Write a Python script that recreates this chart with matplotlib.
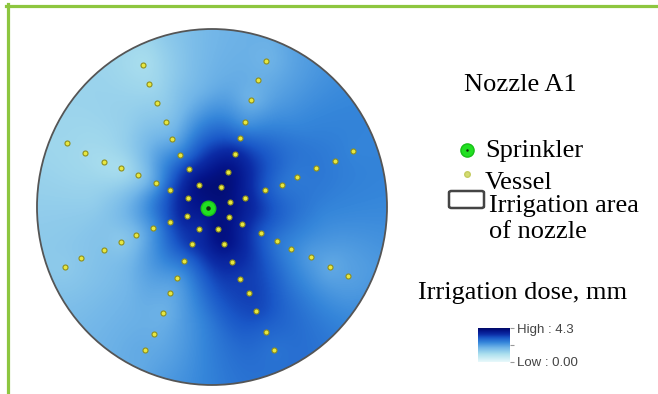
import matplotlib
matplotlib.use("Agg")
import matplotlib.pyplot as plt
import numpy as np
from matplotlib.colors import LinearSegmentedColormap
from matplotlib.lines import Line2D
from matplotlib.patches import Circle, FancyBboxPatch

# 容器位置 (m, 以喷头为原点), 8 条测线, 每条 8 个容器, 由外向内
ray_nnw_x = [-3.33, -3.00, -2.58, -2.17, -1.83, -1.42, -1.00, -0.50]
ray_nnw_y = [7.12, 6.17, 5.20, 4.28, 3.42, 2.62, 1.92, 1.13]
ray_nne_x = [2.92, 2.50, 2.13, 1.87, 1.62, 1.33, 0.97, 0.63]
ray_nne_y = [7.33, 6.37, 5.37, 4.30, 3.50, 2.67, 1.80, 1.03]
ray_wnw_x = [-7.13, -6.22, -5.30, -4.42, -3.55, -2.67, -1.92, -1.03]
ray_wnw_y = [3.25, 2.75, 2.28, 1.97, 1.62, 1.25, 0.88, 0.50]
ray_ene_x = [7.33, 6.42, 5.42, 4.47, 3.70, 2.88, 1.87, 1.08]
ray_ene_y = [2.83, 2.33, 1.97, 1.55, 1.13, 0.92, 0.50, 0.28]
ray_wsw_x = [-7.25, -6.42, -5.30, -4.42, -3.67, -2.78, -1.92, -1.08]
ray_wsw_y = [-2.92, -2.48, -2.08, -1.67, -1.35, -1.00, -0.68, -0.38]
ray_ese_x = [7.05, 6.17, 5.17, 4.20, 3.47, 2.67, 1.72, 1.03]
ray_ese_y = [-3.38, -2.95, -2.42, -2.05, -1.62, -1.22, -0.78, -0.45]
ray_ssw_x = [-3.20, -2.75, -2.30, -1.95, -1.58, -1.25, -0.83, -0.50]
ray_ssw_y = [-7.05, -6.25, -5.20, -4.25, -3.47, -2.65, -1.80, -1.05]
ray_sse_x = [3.33, 2.92, 2.42, 2.05, 1.62, 1.20, 0.80, 0.47]
ray_sse_y = [-7.05, -6.17, -5.13, -4.25, -3.55, -2.70, -1.77, -1.05]

# 各容器的灌水深度 (mm)
dose_nnw = [1.0, 1.1, 1.3, 1.5, 1.8, 2.5, 3.6, 4.3]
dose_nne = [1.8, 1.9, 1.7, 2.1, 2.9, 3.8, 4.2, 4.3]
dose_wnw = [1.2, 1.1, 1.0, 0.9, 1.2, 1.9, 3.3, 4.0]
dose_ene = [2.5, 2.6, 2.7, 2.6, 2.6, 3.0, 3.7, 4.1]
dose_wsw = [1.4, 1.5, 1.6, 1.3, 1.6, 2.2, 3.3, 3.9]
dose_ese = [2.1, 1.9, 2.1, 2.4, 2.6, 3.0, 3.6, 4.1]
dose_ssw = [2.0, 1.9, 1.8, 1.9, 2.1, 2.7, 3.6, 3.3]
dose_sse = [2.7, 2.9, 3.3, 3.4, 3.3, 3.6, 4.2, 4.3]

dose_min, dose_max = 0.0, 4.3

# 喷嘴湿润区域 (圆)
area_cx, area_cy, area_r = 0.18, 0.05, 8.85

vx = np.array(ray_nnw_x + ray_nne_x + ray_wnw_x + ray_ene_x + ray_wsw_x + ray_ese_x + ray_ssw_x + ray_sse_x)
vy = np.array(ray_nnw_y + ray_nne_y + ray_wnw_y + ray_ene_y + ray_wsw_y + ray_ese_y + ray_ssw_y + ray_sse_y)
vd = np.array(dose_nnw + dose_nne + dose_wnw + dose_ene + dose_wsw + dose_ese + dose_ssw + dose_sse)

cmap = LinearSegmentedColormap.from_list(
    "dose",
    [
        (0.00, "#e8f9fb"),
        (0.23, "#ace0ee"),
        (0.42, "#72b6e8"),
        (0.58, "#3586da"),
        (0.72, "#1a58c8"),
        (0.82, "#0c2ca6"),
        (0.92, "#04148a"),
        (1.00, "#020a68"),
    ],
)

plt.rcParams["font.family"] = ["Liberation Serif", "DejaVu Serif"]

fig = plt.figure(figsize=(6.58, 3.94), dpi=100)

# 反距离加权插值 (幂 2, 最近 12 点)
n_near = 12
xs = np.linspace(area_cx - area_r, area_cx + area_r, 360)
ys = np.linspace(area_cy - area_r, area_cy + area_r, 360)
gx, gy = np.meshgrid(xs, ys)
d2 = (gx[..., None] - vx) ** 2 + (gy[..., None] - vy) ** 2 + 0.02
idx = np.argpartition(d2, n_near, axis=-1)[..., :n_near]
d2_near = np.take_along_axis(d2, idx, axis=-1)
w = 1.0 / d2_near
grid = (w * vd[idx]).sum(axis=-1) / w.sum(axis=-1)

# 高斯平滑, 去掉邻域切换造成的折痕
sigma = 7
k = np.arange(-3 * sigma, 3 * sigma + 1)
kernel = np.exp(-0.5 * (k / sigma) ** 2)
kernel /= kernel.sum()
pad = len(k) // 2
grid = np.pad(grid, pad, mode="edge")
grid = np.apply_along_axis(lambda r: np.convolve(r, kernel, mode="valid"), 1, grid)
grid = np.apply_along_axis(lambda c: np.convolve(c, kernel, mode="valid"), 0, grid)

ax = fig.add_axes([36 / 658, 1 - 386 / 394, 352 / 658, 358 / 394])
ax.set_xlim(area_cx - area_r - 0.05, area_cx + area_r + 0.05)
ax.set_ylim(area_cy - area_r - 0.05, area_cy + area_r + 0.05)
ax.axis("off")

circle = Circle((area_cx, area_cy), area_r, facecolor="none", edgecolor="#555555", linewidth=1.3, zorder=3)
im = ax.imshow(
    grid,
    extent=(xs[0], xs[-1], ys[0], ys[-1]),
    origin="lower",
    cmap=cmap,
    vmin=dose_min,
    vmax=dose_max,
    interpolation="bilinear",
    aspect="auto",
    zorder=1,
)
ax.add_patch(circle)
im.set_clip_path(circle)

ax.scatter(vx, vy, s=13, c="#e8e840", edgecolors="#8f8f1c", linewidths=0.8, zorder=4)
ax.scatter([0], [0], s=110, c="#22e022", edgecolors="#18c018", linewidths=1, zorder=5)
ax.scatter([0], [0], s=5, c="#103010", zorder=6)

# 图例
fig.text(520 / 658, 1 - 85 / 394, "Nozzle A1", fontsize=19, ha="center", va="center")
fig.add_artist(Line2D([467 / 658], [1 - 150 / 394], marker="o", markersize=9.5,
                      markerfacecolor="#22e022", markeredgecolor="#18c018", linestyle="none"))
fig.add_artist(Line2D([467 / 658], [1 - 150 / 394], marker="o", markersize=1.8,
                      markerfacecolor="#103010", markeredgecolor="none", linestyle="none"))
fig.text(485 / 658, 1 - 151 / 394, "Sprinkler", fontsize=19, ha="left", va="center")
fig.add_artist(Line2D([467 / 658], [1 - 174 / 394], marker="o", markersize=4,
                      markerfacecolor="#d4dc70", markeredgecolor="#c4cc60", linestyle="none"))
fig.text(485 / 658, 1 - 189 / 394, "Vessel", fontsize=19, ha="left", va="baseline")
fig.add_artist(FancyBboxPatch((449 / 658, 1 - 208 / 394), 35 / 658, 17 / 394,
                              boxstyle="round,pad=0,rounding_size=0.004",
                              transform=fig.transFigure, facecolor="white",
                              edgecolor="#444444", linewidth=1.8))
fig.text(489 / 658, 1 - 212 / 394, "Irrigation area", fontsize=19, ha="left", va="baseline")
fig.text(489 / 658, 1 - 238 / 394, "of nozzle", fontsize=19, ha="left", va="baseline")

fig.text(418 / 658, 1 - 299 / 394, "Irrigation dose, mm", fontsize=19, ha="left", va="baseline")

cax = fig.add_axes([478 / 658, 1 - 362 / 394, 32 / 658, 34 / 394])
levels = np.linspace(dose_min, dose_max, 100)[:, None]
cax.imshow(levels, cmap=cmap, vmin=dose_min, vmax=dose_max, origin="lower",
           aspect="auto", extent=(0, 1, dose_min, dose_max))
cax.set_xticks([])
for side in ["top", "bottom", "left", "right"]:
    cax.spines[side].set_visible(False)
cax.yaxis.tick_right()
cax.set_yticks([dose_min, (dose_min + dose_max) / 2, dose_max])
cax.set_yticklabels([f"Low : {dose_min:.2f}", "", f"High : {dose_max:.1f}"],
                    family=["Liberation Sans", "DejaVu Sans"], fontsize=9.5, color="#444444")
cax.tick_params(axis="y", length=3, width=0.8, color="#999999", pad=2)

# 外框
fig.add_artist(Line2D([6 / 658, 1], [1 - 5.5 / 394, 1 - 5.5 / 394], color="#8dc63f", linewidth=2.3))
fig.add_artist(Line2D([7.5 / 658, 7.5 / 658], [0, 1 - 4 / 394], color="#8dc63f", linewidth=2.3))

fig.savefig("out.png", dpi=100)
